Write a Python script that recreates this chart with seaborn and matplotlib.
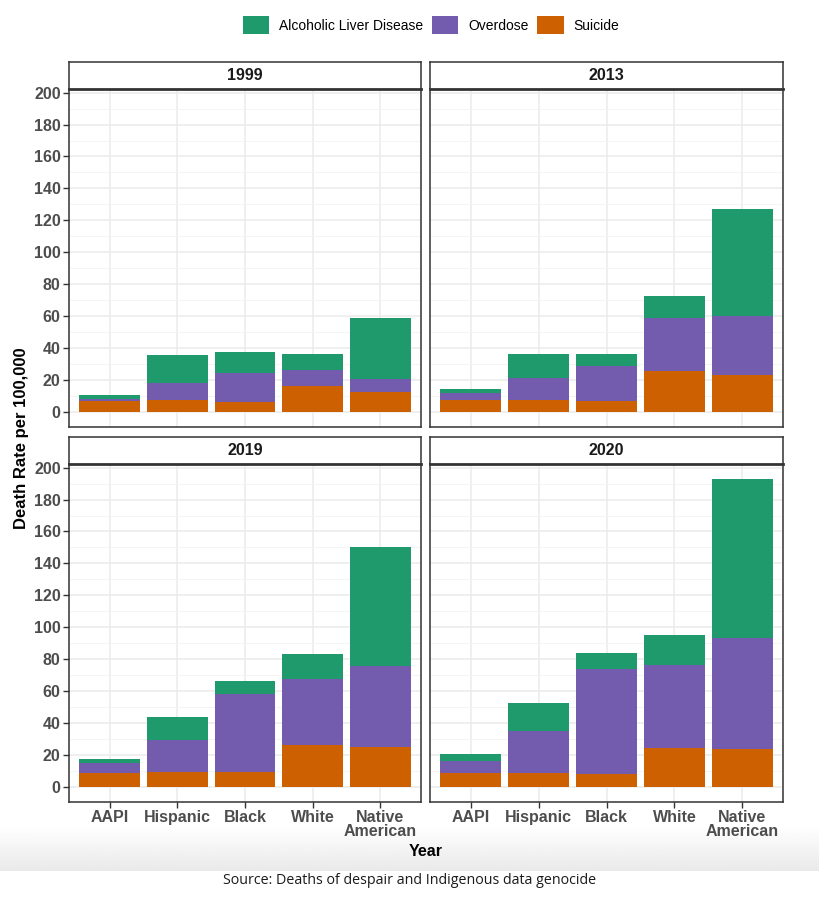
import numpy as np
import pandas as pd
import matplotlib.pyplot as plt
import seaborn as sns
from matplotlib.patches import Patch

# values (deaths per 100,000)
groups = ['AAPI', 'Hispanic', 'Black', 'White', 'Native\nAmerican']
years = ['1999', '2013', '2019', '2020']
causes = ['Alcoholic Liver Disease', 'Overdose', 'Suicide']

suicide = {
    '1999': [6.7, 7.1, 5.9, 15.9, 12.1],
    '2013': [7.5, 7.1, 6.7, 25.5, 23.0],
    '2019': [8.6, 9.2, 9.2, 26.1, 24.8],
    '2020': [8.4, 8.4, 7.9, 24.4, 23.4],
}
overdose = {
    '1999': [1.5, 10.9, 18.3, 10.2, 8.2],
    '2013': [4.2, 14.0, 21.7, 33.0, 37.2],
    '2019': [6.0, 19.8, 48.6, 41.5, 51.0],
    '2020': [7.9, 26.7, 66.0, 52.0, 70.1],
}
alcohol = {
    '1999': [2.0, 17.3, 13.4, 9.8, 38.4],
    '2013': [2.7, 15.3, 8.0, 13.8, 66.9],
    '2019': [2.7, 14.6, 8.6, 15.7, 74.7],
    '2020': [4.2, 17.3, 10.0, 18.8, 99.2],
}

colors = {'Alcoholic Liver Disease': '#1E9A6D', 'Overdose': '#735CAE', 'Suicide': '#CD6001'}

plt.rcParams['font.family'] = ['Liberation Sans', 'DejaVu Sans']

rows = []
for y in years:
    for i, g in enumerate(groups):
        rows.append({'Year': y, 'Group': g, 'Suicide': suicide[y][i],
                     'Overdose': overdose[y][i], 'Alcoholic Liver Disease': alcohol[y][i]})
df = pd.DataFrame(rows)
# cumulative tops for stacking
df['top_s'] = df['Suicide']
df['top_o'] = df['Suicide'] + df['Overdose']
df['top_a'] = df['top_o'] + df['Alcoholic Liver Disease']

W, H = 820, 900
fig = plt.figure(figsize=(W / 100, H / 100), dpi=100)


def px_axes(x0, y0, x1, y1):
    return fig.add_axes([x0 / W, 1 - y1 / H, (x1 - x0) / W, (y1 - y0) / H])


# grey fade band at the bottom, like the source image
band = px_axes(0, 826, W, 871)
grad = np.linspace(1.0, 0.915, 64).reshape(-1, 1)
band.imshow(grad, aspect='auto', cmap='gray', vmin=0, vmax=1, extent=[0, 1, 0, 1])
band.axis('off')

panels = {
    '1999': (69, 89, 421, 427),
    '2013': (430, 89, 783, 427),
    '2019': (69, 464, 421, 802),
    '2020': (430, 464, 783, 802),
}
tick_col = '#4D4D4D'
edge_col = '#333333'

for y in years:
    x0, y0, x1, y1 = panels[y]
    ax = px_axes(x0, y0, x1, y1)
    sub = df[df['Year'] == y]
    ax.set_axisbelow(True)
    sns.barplot(data=sub, x='Group', y='top_a', order=groups, color=colors['Alcoholic Liver Disease'],
                width=0.9, saturation=1, ax=ax, errorbar=None)
    sns.barplot(data=sub, x='Group', y='top_o', order=groups, color=colors['Overdose'],
                width=0.9, saturation=1, ax=ax, errorbar=None)
    sns.barplot(data=sub, x='Group', y='top_s', order=groups, color=colors['Suicide'],
                width=0.9, saturation=1, ax=ax, errorbar=None)
    ax.set_xlim(-0.6, 4.6)
    ax.set_ylim(-9.6, 202.3)
    ax.set_yticks(np.arange(0, 201, 20))
    ax.set_yticks(np.arange(10, 200, 20), minor=True)
    ax.grid(True, which='major', color='#EBEBEB', linewidth=1.1)
    ax.grid(True, which='minor', axis='y', color='#F2F2F2', linewidth=0.6)
    ax.set_facecolor('white')
    for s in ax.spines.values():
        s.set_color(edge_col)
        s.set_linewidth(1.1)
    ax.set_xlabel('')
    ax.set_ylabel('')
    ax.tick_params(which='minor', length=0)
    ax.tick_params(which='major', color=edge_col, length=4, width=1.0)
    if y in ('1999', '2019'):
        ax.tick_params(axis='y', labelsize=11.5, labelcolor=tick_col, pad=2)
        for t in ax.get_yticklabels():
            t.set_fontweight('bold')
    else:
        ax.tick_params(axis='y', length=0, labelleft=False)
    if y in ('2019', '2020'):
        ax.tick_params(axis='x', labelsize=11.5, labelcolor=tick_col, pad=1.5)
        for t in ax.get_xticklabels():
            t.set_fontweight('bold')
            t.set_linespacing(0.95)
    else:
        ax.tick_params(axis='x', length=0, labelbottom=False)

    # strip above each panel
    st = px_axes(x0, y0 - 27, x1, y0)
    st.set_xticks([])
    st.set_yticks([])
    st.set_facecolor('white')
    for s in st.spines.values():
        s.set_color(edge_col)
        s.set_linewidth(1.1)
    st.spines['bottom'].set_linewidth(2.0)
    st.text(0.5, 0.5, y, ha='center', va='center', fontsize=11.5, fontweight='bold', color='#1A1A1A')

fig.text(22 / W, 1 - 438 / H, 'Death Rate per 100,000', rotation=90, ha='center', va='center',
         fontsize=12, fontweight='bold', color='black')
fig.text(426 / W, 1 - 851 / H, 'Year', ha='center', va='center',
         fontsize=11.5, fontweight='bold', color='black')
fig.text(410 / W, 1 - 880 / H, 'Source: Deaths of despair and Indigenous data genocide',
         ha='center', va='center', fontsize=10.3, color='#1A1A1A', family='Open Sans')

handles = [Patch(facecolor=colors[c], edgecolor='none', label=c) for c in causes]
fig.legend(handles=handles, loc='center', bbox_to_anchor=(431 / W, 1 - 25 / H), ncol=3,
           frameon=False, fontsize=10, handlelength=1.9, handleheight=1.55, handletextpad=0.7,
           columnspacing=0.65)

fig.savefig('out.png', dpi=100, facecolor='white')
